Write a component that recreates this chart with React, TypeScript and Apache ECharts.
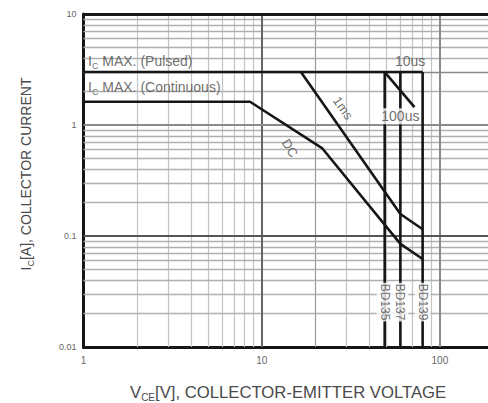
import React, { useEffect, useRef } from "react";
import * as echarts from "echarts";

// ---- data ----
const xRange = [1, 1000];
const yRange = [0.01, 10];
const xLabelMax = 100;

const dcVoltage = [1, 8.6, 21.8, 60, 80];
const dcCurrent = [1.62, 1.62, 0.62, 0.085, 0.062];
const pulsedVoltage = [1, 80];
const pulsedCurrent = [3, 3];
const ms1Voltage = [16.6, 60, 80];
const ms1Current = [3, 0.158, 0.115];
const us100Voltage = [49, 72];
const us100Current = [3, 1.45];
const deviceNames = ["BD135", "BD137", "BD139"];
const deviceVoltage = [49, 60, 80];
const deviceCurrentTop = 3;
const deviceCurrentBottom = 0.01;
const deviceLabelCurrent = 0.0254;

const xMinorGrid = [2, 3, 4, 5, 6, 7, 8, 9, 20, 30, 40, 50, 60, 70, 80, 90, 200, 300, 400, 500, 600, 700, 800, 900];
const yMinorGrid = [0.02, 0.03, 0.04, 0.05, 0.06, 0.07, 0.08, 0.09, 0.2, 0.3, 0.4, 0.5, 0.6, 0.7, 0.8, 0.9, 2, 3, 4, 5, 6, 7, 8, 9];
const xMajorGrid = [10, 100];
const yMajorGrid = [0.1, 1];
const yTopBorder = 10;

const annoText = [
  "{t|I}{s|C}{t| MAX. (Pulsed)}",
  "{t|I}{s|C}{t| MAX. (Continuous)}",
  "10us",
  "100us",
  "1ms",
  "DC",
];
const annoVoltage = [1.06, 1.06, 68, 60, 28.6, 14.4];
const annoCurrent = [3.93, 2.29, 3.75, 1.2, 1.42, 0.62];

const xTitle = "{t|V}{s|CE}{t|[V], COLLECTOR-EMITTER VOLTAGE}";
const yTitle = "{t|I}{s|C}{t|[A], COLLECTOR CURRENT}";

const FONT = "Liberation Sans, Arial, sans-serif";
const TXT = "#4a4a4a";
const INK = "#161616";

function zip(xs: number[], ys: number[]) {
  return xs.map((x, i) => [x, ys[i]]);
}

export default function App() {
  const ref = useRef<HTMLDivElement>(null);
  useEffect(() => {
    if (!ref.current) return;
    const chart = echarts.init(ref.current, undefined, { renderer: "svg" });

    const richBase = (size: number) => ({
      t: { fontSize: size, color: TXT, fontFamily: FONT, lineHeight: size + 4, verticalAlign: "bottom" },
      s: { fontSize: Math.round(size * 0.62), color: TXT, fontFamily: FONT, lineHeight: size + 4, verticalAlign: "bottom", padding: [0, 0, -2, 0] },
    });

    const gridLines: any[] = [];
    xMinorGrid.forEach((v) =>
      gridLines.push({ xAxis: v, lineStyle: { color: v === 20 ? "#9a9a9a" : "#c4c4c4", width: 1.2, type: "solid" } })
    );
    yMinorGrid.forEach((v) =>
      gridLines.push({ yAxis: v, lineStyle: { color: v === 3 ? "#8a8a8a" : "#b0b0b0", width: 1.3, type: "solid" } })
    );
    xMajorGrid.forEach((v) =>
      gridLines.push({ xAxis: v, lineStyle: { color: v === 10 ? "#666" : "#8a8a8a", width: 2, type: "solid" } })
    );
    yMajorGrid.forEach((v) =>
      gridLines.push({ yAxis: v, lineStyle: { color: v === 0.1 ? "#555" : "#8a8a8a", width: 2, type: "solid" } })
    );
    gridLines.push({ yAxis: yTopBorder, lineStyle: { color: INK, width: 3, type: "solid" } });

    const curveStyle = { color: INK, width: 2.6 };
    const curve = (name: string, data: number[][]) => ({
      type: "line",
      name,
      data,
      symbol: "none",
      lineStyle: curveStyle,
      itemStyle: { color: INK },
      z: 5,
      silent: true,
    });

    const annoLabels = annoText.map((txt, i) => {
      const base: any = {
        show: true,
        formatter: txt,
        fontFamily: FONT,
        color: TXT,
        fontSize: 14,
        rich: richBase(14),
      };
      if (i < 2) {
        base.position = "right";
        base.distance = 0;
      } else if (i === 2) {
        base.position = "inside";
      } else if (i === 3) {
        base.position = "inside";
        base.backgroundColor = "#fff";
        base.padding = [1, 1];
      } else {
        base.position = "inside";
        base.rotate = i === 4 ? -55 : -58;
        base.fontSize = 13;
      }
      return { value: [annoVoltage[i], annoCurrent[i]], label: base };
    });

    const deviceLabels = deviceNames.map((n, i) => ({
      value: [deviceVoltage[i], deviceLabelCurrent],
      label: {
        show: true,
        formatter: n,
        position: "inside",
        rotate: -90,
        fontFamily: FONT,
        fontSize: 12,
        color: TXT,
        backgroundColor: "#fff",
        padding: [2, 1],
      },
    }));

    chart.setOption({
      animation: false,
      backgroundColor: "#fff",
      grid: { left: 83.5, top: 14, right: 21.9, bottom: 56, containLabel: false, outerBoundsMode: "none" },
      xAxis: {
        type: "log",
        logBase: 10,
        min: xRange[0],
        max: xRange[1],
        splitLine: { show: false },
        axisTick: { show: false },
        axisLine: { show: true, onZero: false, lineStyle: { color: INK, width: 3 } },
        axisLabel: {
          color: "#666",
          fontSize: 10,
          fontFamily: FONT,
          margin: 8,
          formatter: (v: number) => (v > xLabelMax ? "" : String(v)),
        },
      },
      yAxis: {
        type: "log",
        logBase: 10,
        min: yRange[0],
        max: yRange[1],
        splitLine: { show: false },
        axisTick: { show: false },
        axisLine: { show: true, onZero: false, lineStyle: { color: INK, width: 3 } },
        axisLabel: { color: "#666", fontSize: 9, fontFamily: FONT, margin: 7, formatter: (v: number) => String(v) },
      },
      graphic: [
        {
          type: "text",
          left: 130,
          top: 384,
          style: { text: xTitle, rich: richBase(16.7), fontFamily: FONT, fill: TXT },
        },
        {
          type: "text",
          x: 24,
          y: 174,
          rotation: Math.PI / 2,
          style: { text: yTitle, rich: richBase(14), fontFamily: FONT, fill: TXT, align: "center", verticalAlign: "middle" },
        },
      ],
      series: [
        {
          type: "line",
          data: [[xRange[0], yRange[0]]],
          symbol: "none",
          silent: true,
          z: 1,
          markLine: {
            silent: true,
            symbol: ["none", "none"],
            label: { show: false },
            animation: false,
            data: gridLines,
          },
        },
        curve("Pulsed", zip(pulsedVoltage, pulsedCurrent)),
        curve("DC", zip(dcVoltage, dcCurrent)),
        curve("1ms", zip(ms1Voltage, ms1Current)),
        curve("100us", zip(us100Voltage, us100Current)),
        ...deviceVoltage.map((v, i) =>
          curve(deviceNames[i], [
            [v, deviceCurrentTop],
            [v, deviceCurrentBottom],
          ])
        ),
        {
          type: "scatter",
          symbolSize: 0,
          silent: true,
          z: 10,
          data: [...annoLabels, ...deviceLabels],
        },
      ],
    });
    return () => chart.dispose();
  }, []);

  return (
    <div style={{ position: "fixed", left: 0, top: 0, width: 488, height: 403, overflow: "hidden", background: "#fff" }}>
      <div ref={ref} style={{ width: 640, height: 403 }} />
    </div>
  );
}
